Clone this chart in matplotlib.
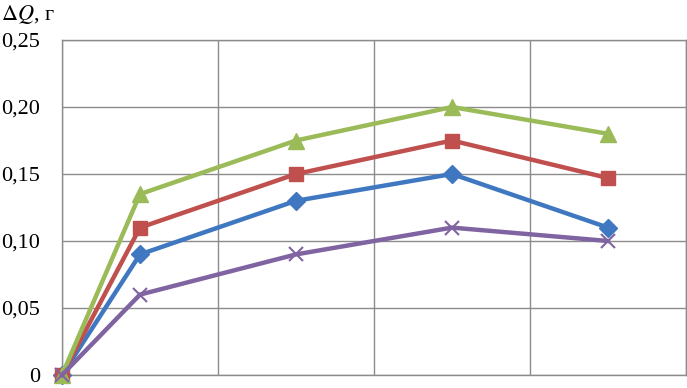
import matplotlib

matplotlib.use("Agg")
import matplotlib.pyplot as plt
from matplotlib.ticker import FixedLocator, FuncFormatter

# Data
x_pos = [0, 0.5, 1.5, 2.5, 3.5]
blue = [0, 0.09, 0.13, 0.15, 0.11]
red = [0, 0.11, 0.15, 0.175, 0.147]
green = [0, 0.135, 0.175, 0.20, 0.18]
purple = [0, 0.06, 0.09, 0.11, 0.10]
y_ticks = [0, 0.05, 0.10, 0.15, 0.20, 0.25]

plt.rcParams["font.family"] = ["Liberation Serif", "DejaVu Serif"]
plt.rcParams["mathtext.fontset"] = "stix"

fig = plt.figure(figsize=(6.87, 3.88), dpi=100)
ax = fig.add_axes([62 / 687, 13 / 388, 624 / 687, 335 / 388])

series = [
    (blue, "#3F78C0", "D", 9),
    (red, "#C0504D", "s", 10),
    (green, "#9BBB59", "^", 11),
    (purple, "#8064A2", "x", 10),
]
for vals, color, marker, ms in series:
    ax.plot(x_pos, vals, color=color, lw=3.2, marker=marker, ms=ms,
            mew=1.5 if marker == "x" else 1, mec=color, clip_on=False, zorder=3)

ax.set_xlim(0, 4)
ax.set_ylim(0, 0.25)
ax.xaxis.set_major_locator(FixedLocator([0, 1, 2, 3, 4]))
ax.yaxis.set_major_locator(FixedLocator(y_ticks))
ax.yaxis.set_major_formatter(
    FuncFormatter(lambda v, _: "0" if v == 0 else f"{v:.2f}".replace(".", ",")))
ax.tick_params(axis="x", length=0, labelbottom=False)
ax.tick_params(axis="y", length=0, pad=16, labelsize=16)
ax.grid(True, color="#8c8c8c", lw=1)
for sp in ax.spines.values():
    sp.set_color("#8c8c8c")
    sp.set_linewidth(1)

fig.text(1 / 687, 1 - 14 / 388, r"$\Delta Q$, г", fontsize=16, va="center", ha="left")

fig.savefig("out.png", dpi=100)
